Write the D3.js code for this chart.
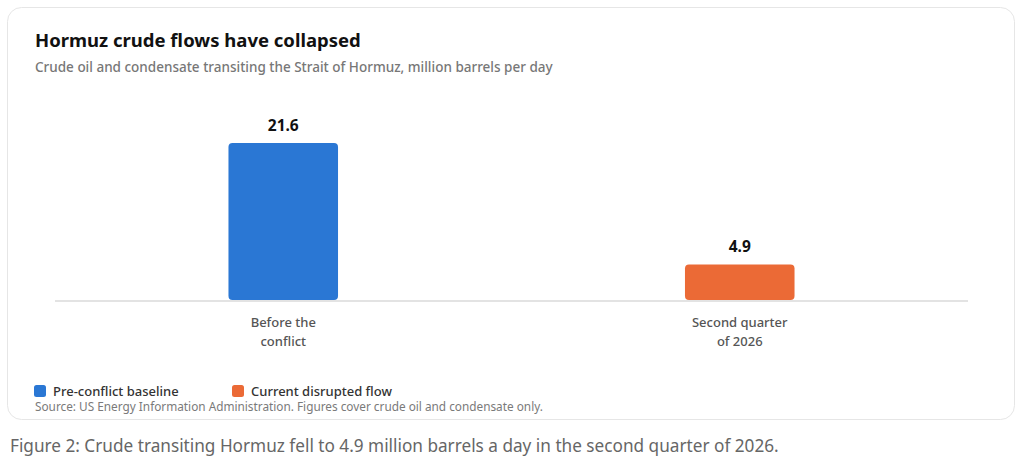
<!DOCTYPE html>
<html lang="en">
<head>
  <meta charset="UTF-8">
  <title>Hormuz crude flows have collapsed</title>
  <script src="https://d3js.org/d3.v7.min.js"></script>
  <style>
    html, body { margin: 0; padding: 0; background: #fff; }
    svg { display: block; font-family: "Noto Sans", "Open Sans", sans-serif; }
  </style>
</head>
<body>
<script>
  // chart data
  const categories = [["Before the", "conflict"], ["Second quarter", "of 2026"]];
  const values = [21.6, 4.9];
  const seriesNames = ["Pre-conflict baseline", "Current disrupted flow"];
  const colors = ["#2a77d4", "#eb6a36"];

  const width = 1024;
  const height = 473;

  const svg = d3.select("body").append("svg")
    .attr("width", width)
    .attr("height", height);

  // card
  svg.append("rect")
    .attr("x", 7.5).attr("y", 7.5)
    .attr("width", 1007).attr("height", 412)
    .attr("rx", 14)
    .attr("fill", "#fff")
    .attr("stroke", "#e6e6e6");

  svg.append("text")
    .attr("x", 35).attr("y", 47)
    .attr("font-size", 18.5).attr("font-weight", 700)
    .attr("fill", "#111")
    .text("Hormuz crude flows have collapsed");

  svg.append("text")
    .attr("x", 35).attr("y", 72)
    .attr("font-size", 13.5).attr("font-weight", 500)
    .attr("fill", "#777")
    .text("Crude oil and condensate transiting the Strait of Hormuz, million barrels per day");

  // scales
  const x = d3.scaleBand()
    .domain(d3.range(values.length))
    .range([55, 968])
    .paddingInner(0.76)
    .paddingOuter(0.38);

  const y = d3.scaleLinear()
    .domain([0, d3.max(values)])
    .range([300, 143]);

  // baseline
  svg.append("line")
    .attr("x1", 55).attr("x2", 968)
    .attr("y1", y(0) + 1).attr("y2", y(0) + 1)
    .attr("stroke", "#e3e3e3")
    .attr("stroke-width", 2);

  // bars
  svg.selectAll(".bar")
    .data(values)
    .enter().append("rect")
    .attr("class", "bar")
    .attr("x", (d, i) => x(i))
    .attr("y", d => y(d))
    .attr("width", x.bandwidth())
    .attr("height", d => y(0) - y(d))
    .attr("rx", 4)
    .attr("fill", (d, i) => colors[i]);

  // value labels
  svg.selectAll(".val")
    .data(values)
    .enter().append("text")
    .attr("class", "val")
    .attr("x", (d, i) => x(i) + x.bandwidth() / 2)
    .attr("y", d => y(d) - 12)
    .attr("text-anchor", "middle")
    .attr("font-size", 15.5).attr("font-weight", 700)
    .attr("fill", "#111")
    .text(d => d.toFixed(1));

  // category labels
  const cat = svg.selectAll(".cat")
    .data(categories)
    .enter().append("text")
    .attr("class", "cat")
    .attr("text-anchor", "middle")
    .attr("font-size", 13).attr("font-weight", 500)
    .attr("fill", "#555");

  cat.selectAll("tspan")
    .data((d, i) => d.map(line => ({ line, i })))
    .enter().append("tspan")
    .attr("x", d => x(d.i) + x.bandwidth() / 2)
    .attr("y", (d, j) => 327 + j * 19)
    .text(d => d.line);

  // legend
  const legendX = [34, 232];
  const legend = svg.selectAll(".legend")
    .data(seriesNames)
    .enter().append("g")
    .attr("class", "legend")
    .attr("transform", (d, i) => `translate(${legendX[i]},385)`);

  legend.append("rect")
    .attr("width", 12).attr("height", 12)
    .attr("rx", 2.5)
    .attr("fill", (d, i) => colors[i]);

  legend.append("text")
    .attr("x", 19).attr("y", 11)
    .attr("font-size", 13).attr("font-weight", 500)
    .attr("fill", "#333")
    .text(d => d);

  svg.append("text")
    .attr("x", 35).attr("y", 411)
    .attr("font-size", 11.8)
    .attr("fill", "#7a7a7a")
    .text("Source: US Energy Information Administration. Figures cover crude oil and condensate only.");

  svg.append("text")
    .attr("x", 10).attr("y", 452)
    .attr("font-size", 17.2)
    .attr("fill", "#666")
    .text("Figure 2: Crude transiting Hormuz fell to 4.9 million barrels a day in the second quarter of 2026.");
</script>
</body>
</html>
